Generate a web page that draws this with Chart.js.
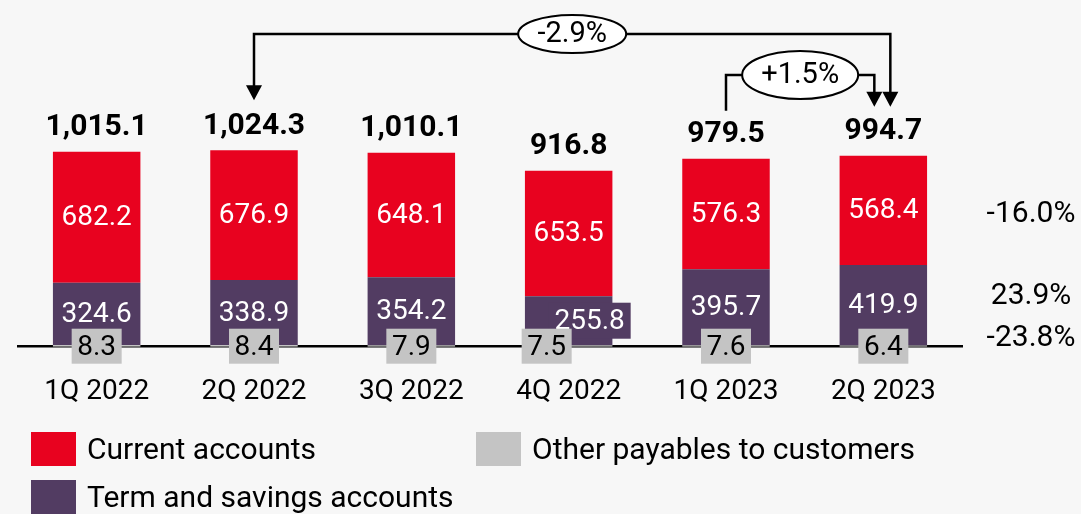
<!DOCTYPE html>
<html>
<head>
    <title>Payables to customers</title>
    <script src="https://cdn.jsdelivr.net/npm/chart.js"></script>
    <style>
        body { margin: 0; background: #f7f7f7; }
        #chart { display: block; }
    </style>
</head>
<body>
    <canvas id="chart" width="1081" height="514"></canvas>
    <script>
        // Data
        const categories = ["1Q 2022", "2Q 2022", "3Q 2022", "4Q 2022", "1Q 2023", "2Q 2023"];
        const currentAccounts = [682.2, 676.9, 648.1, 653.5, 576.3, 568.4];
        const termSavings = [324.6, 338.9, 354.2, 255.8, 395.7, 419.9];
        const otherPayables = [8.3, 8.4, 7.9, 7.5, 7.6, 6.4];
        const totals = ["1,015.1", "1,024.3", "1,010.1", "916.8", "979.5", "994.7"];
        const changeLabels = ["-16.0%", "23.9%", "-23.8%"];
        const seriesNames = ["Current accounts", "Term and savings accounts", "Other payables to customers"];

        const RED = "#e8021f";
        const PURPLE = "#523c62";
        const GRAY = "#c4c4c4";
        const FONT = "Roboto";

        function arrowHead(ctx, x, tipY) {
            ctx.beginPath();
            ctx.moveTo(x - 8, tipY - 15);
            ctx.lineTo(x + 8, tipY - 15);
            ctx.lineTo(x, tipY);
            ctx.closePath();
            ctx.fill();
        }

        function bubble(ctx, cx, cy, rx, ry, text) {
            ctx.beginPath();
            ctx.ellipse(cx, cy, rx, ry, 0, 0, Math.PI * 2);
            ctx.fillStyle = "#fff";
            ctx.fill();
            ctx.lineWidth = 2;
            ctx.stroke();
            ctx.fillStyle = "#000";
            ctx.font = `29px ${FONT}`;
            ctx.textAlign = "center";
            ctx.textBaseline = "middle";
            ctx.fillText(text, cx, cy + 1);
        }

        const labelsPlugin = {
            id: "labels",
            afterDraw(chart) {
                const ctx = chart.ctx;
                const other = chart.getDatasetMeta(0).data;
                const term = chart.getDatasetMeta(1).data;
                const cur = chart.getDatasetMeta(2).data;
                const base = chart.scales.y.getPixelForValue(0);
                ctx.save();
                ctx.textAlign = "center";
                ctx.textBaseline = "middle";

                // current accounts values
                ctx.font = `28px ${FONT}`;
                ctx.fillStyle = "#fff";
                cur.forEach((bar, i) => {
                    ctx.fillText(currentAccounts[i].toFixed(1), bar.x, (bar.y + bar.base) / 2 + 1);
                });

                // term and savings values
                term.forEach((bar, i) => {
                    const mid = (bar.y + bar.base) / 2;
                    let x = bar.x;
                    if (i === 3) {
                        x = bar.x + 21;
                        ctx.fillStyle = PURPLE;
                        ctx.fillRect(x - 41, mid - 18, 82, 36);
                    }
                    ctx.fillStyle = "#fff";
                    ctx.fillText(termSavings[i].toFixed(1), x, mid + 1);
                });

                // other payables boxes on the baseline
                other.forEach((bar, i) => {
                    const x = bar.x + (i === 3 ? -22 : 0);
                    ctx.fillStyle = GRAY;
                    ctx.fillRect(x - 25, base - 18, 50, 35);
                    ctx.fillStyle = "#000";
                    ctx.fillText(otherPayables[i].toFixed(1), x, base + 1);
                });

                // totals
                ctx.font = `bold 30px ${FONT}`;
                ctx.fillStyle = "#000";
                cur.forEach((bar, i) => {
                    ctx.fillText(totals[i], bar.x, bar.y - 24);
                });

                // change arrows
                ctx.strokeStyle = "#000";
                ctx.fillStyle = "#000";
                ctx.lineWidth = 2.5;
                const b2 = cur[1], b5 = cur[4], b6 = cur[5];
                const lx = b2.x, rx = b6.x + 7;
                ctx.beginPath();
                ctx.moveTo(lx, b2.y - 64);
                ctx.lineTo(lx, 34);
                ctx.lineTo(rx, 34);
                ctx.lineTo(rx, b6.y - 63);
                ctx.stroke();
                arrowHead(ctx, lx, b2.y - 50);
                arrowHead(ctx, rx, b6.y - 49);
                bubble(ctx, (lx + rx) / 2, 34, 54, 19, "-2.9%");

                ctx.lineWidth = 2.5;
                const sx = b5.x, ex = b6.x - 9;
                ctx.beginPath();
                ctx.moveTo(sx, b5.y - 48);
                ctx.lineTo(sx, 75);
                ctx.lineTo(ex, 75);
                ctx.lineTo(ex, b6.y - 63);
                ctx.stroke();
                ctx.fillStyle = "#000";
                arrowHead(ctx, ex, b6.y - 49);
                bubble(ctx, (sx + ex) / 2, 75, 58, 24, "+1.5%");

                // change percentages on the right
                ctx.font = `30px ${FONT}`;
                ctx.fillStyle = "#000";
                ctx.textAlign = "center";
                const ys = [214, 296, 338];
                changeLabels.forEach((t, i) => ctx.fillText(t, 1031, ys[i]));

                // legend
                const items = [
                    { c: RED, t: seriesNames[0], x: 31, y: 432 },
                    { c: GRAY, t: seriesNames[2], x: 476, y: 432 },
                    { c: PURPLE, t: seriesNames[1], x: 31, y: 480 }
                ];
                ctx.textAlign = "left";
                items.forEach(it => {
                    ctx.fillStyle = it.c;
                    ctx.fillRect(it.x, it.y, 45, 34);
                    ctx.fillStyle = "#000";
                    ctx.fillText(it.t, it.x + 56, it.y + 19);
                });
                ctx.restore();
            }
        };

        new Chart(document.getElementById("chart"), {
            type: "bar",
            data: {
                labels: categories,
                datasets: [
                    { label: seriesNames[2], data: otherPayables, backgroundColor: GRAY },
                    { label: seriesNames[1], data: termSavings, backgroundColor: PURPLE },
                    { label: seriesNames[0], data: currentAccounts, backgroundColor: RED }
                ]
            },
            options: {
                responsive: false,
                animation: false,
                devicePixelRatio: 1,
                categoryPercentage: 1,
                barPercentage: 0.556,
                layout: { padding: { top: 78, left: 18, right: 119, bottom: 0 } },
                plugins: { legend: { display: false }, tooltip: { enabled: false } },
                scales: {
                    x: {
                        stacked: true,
                        grid: { display: false, drawTicks: false },
                        border: { display: true, color: "#000", width: 2.5 },
                        ticks: { color: "#000", font: { family: FONT, size: 28 }, padding: 28 },
                        afterFit(scale) { scale.height = 167.3; }
                    },
                    y: {
                        stacked: true,
                        display: false,
                        min: 0,
                        max: 1400
                    }
                }
            },
            plugins: [labelsPlugin]
        });
    </script>
</body>
</html>
